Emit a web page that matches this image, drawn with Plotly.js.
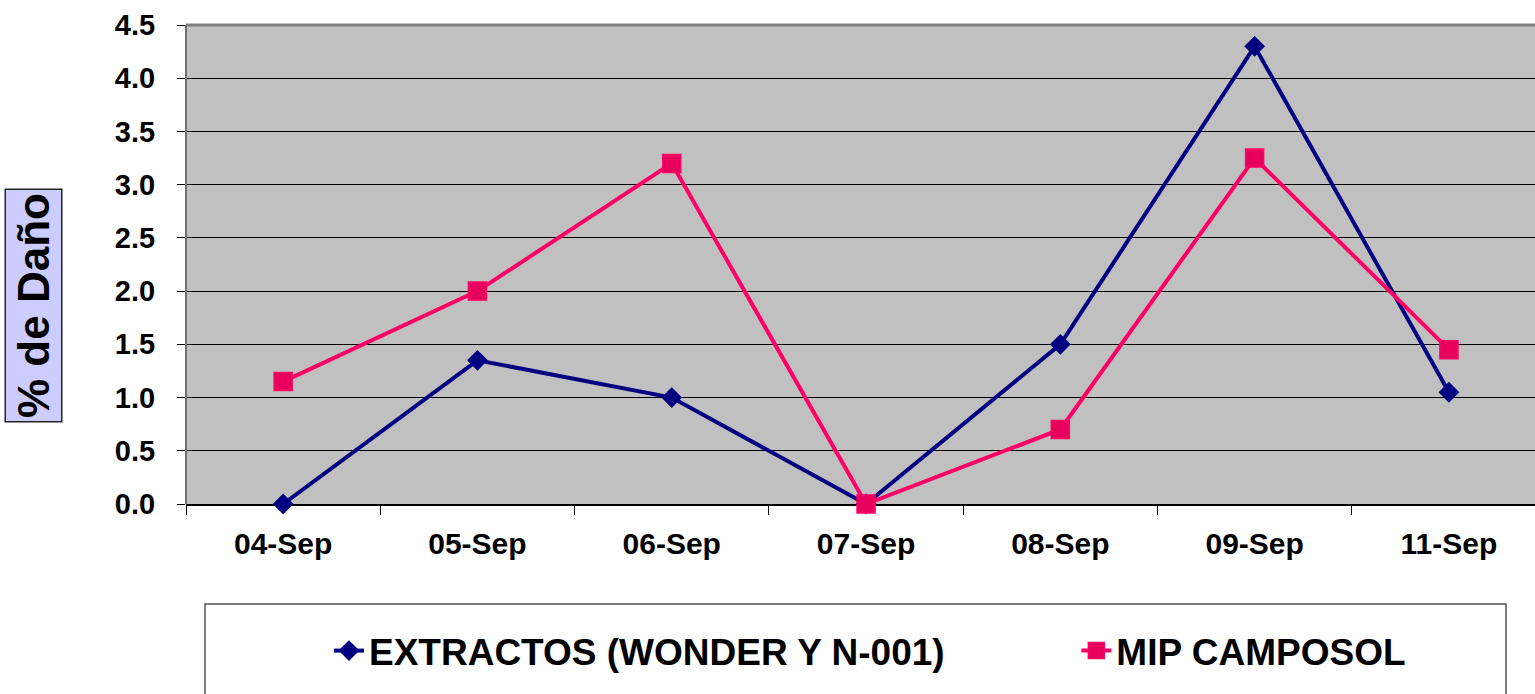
<!DOCTYPE html>
<html>
<head>
<meta charset="utf-8">
<script src="https://cdn.plot.ly/plotly-3.0.1.min.js"></script>
<style>
html,body{margin:0;padding:0;overflow:hidden;background:#fff;}
#chart{width:1535px;height:694px;}
</style>
</head>
<body>
<div id="chart"></div>
<script>
const categories = ["04-Sep","05-Sep","06-Sep","07-Sep","08-Sep","09-Sep","11-Sep"];
const extractos = [0, 1.35, 1.0, 0, 1.5, 4.3, 1.05];
const mip = [1.15, 2.0, 3.2, 0, 0.7, 3.25, 1.45];
const yTicks = [0,0.5,1.0,1.5,2.0,2.5,3.0,3.5,4.0,4.5];
const yTickText = ["0.0","0.5","1.0","1.5","2.0","2.5","3.0","3.5","4.0","4.5"];
const nameA = "EXTRACTOS (WONDER Y N-001)";
const nameB = "MIP CAMPOSOL";
const yTitle = "% de Daño";

const FONT = "Liberation Sans, Arial, sans-serif";

const traces = [
  {
    x: categories, y: extractos, name: nameA, type: "scatter", mode: "lines+markers",
    line: {color: "#000080", width: 4},
    marker: {symbol: "diamond", size: 16, color: "#000080"},
    cliponaxis: false, legend: "legend"
  },
  {
    x: categories, y: mip, name: nameB, type: "scatter", mode: "lines+markers",
    line: {color: "#FF0066", width: 4},
    marker: {symbol: "square", size: 18, color: "#E6005C", line: {color: "#FF0066", width: 1.5}},
    cliponaxis: false, legend: "legend2"
  }
];

const layout = {
  width: 1535, height: 694,
  margin: {l: 186, r: 0, t: 25, b: 190},
  paper_bgcolor: "#ffffff",
  plot_bgcolor: "#C0C0C0",
  font: {family: FONT, color: "#000"},
  showlegend: true,
  xaxis: {
    type: "category",
    range: [-0.5, 6.443],
    tickson: "boundaries",
    ticks: "outside", ticklen: 9, tickcolor: "#000", tickwidth: 1,
    showgrid: false,
    showline: true, linecolor: "#000", linewidth: 1.5,
    tickfont: {family: FONT, size: 30, color: "#000", weight: "bold"},
    ticklabelstandoff: 12,
    layer: "below traces",
    fixedrange: true
  },
  yaxis: {
    range: [0, 4.5],
    tickvals: yTicks, ticktext: yTickText,
    ticks: "outside", ticklen: 8, tickcolor: "#000", tickwidth: 1,
    showgrid: true, gridcolor: "#000", gridwidth: 1,
    zeroline: false,
    showline: false,
    tickfont: {family: FONT, size: 29, color: "#000", weight: "bold"},
    ticklabelstandoff: 16,
    layer: "below traces",
    fixedrange: true
  },
  legend: {
    x: 0.106, xanchor: "left", y: -0.307, yanchor: "middle",
    orientation: "h", bgcolor: "rgba(0,0,0,0)", borderwidth: 0,
    font: {family: FONT, size: 37, color: "#000", weight: "bold"}
  },
  legend2: {
    x: 0.660, xanchor: "left", y: -0.307, yanchor: "middle",
    orientation: "h", bgcolor: "rgba(0,0,0,0)", borderwidth: 0,
    font: {family: FONT, size: 37, color: "#000", weight: "bold"}
  },
  shapes: [
    {type: "line", xref: "paper", yref: "paper", x0: 0, x1: 1, y0: 1, y1: 1,
     line: {color: "#808080", width: 3}, layer: "above"},
    {type: "line", xref: "paper", yref: "paper", x0: 0, x1: 0, y0: 0, y1: 1,
     line: {color: "#707070", width: 2}, layer: "above"},
    {type: "rect", xref: "paper", yref: "paper",
     x0: (205-186)/1349, x1: (1506-186)/1349, y0: (504-720)/479, y1: (504-604)/479,
     line: {color: "#555555", width: 1.5}, fillcolor: "rgba(0,0,0,0)", layer: "above"}
  ],
  annotations: [
    {
      text: yTitle, textangle: -90,
      xref: "paper", yref: "paper", x: (33.5-186)/1349, y: (504-306)/479,
      xanchor: "center", yanchor: "middle", showarrow: false,
      font: {family: FONT, size: 44, color: "#000", weight: "bold"},
      bgcolor: "#CCCCFF", bordercolor: "#222", borderwidth: 1.5, borderpad: 3
    }
  ]
};

Plotly.newPlot("chart", traces, layout, {displayModeBar: false, staticPlot: true});
</script>
</body>
</html>
